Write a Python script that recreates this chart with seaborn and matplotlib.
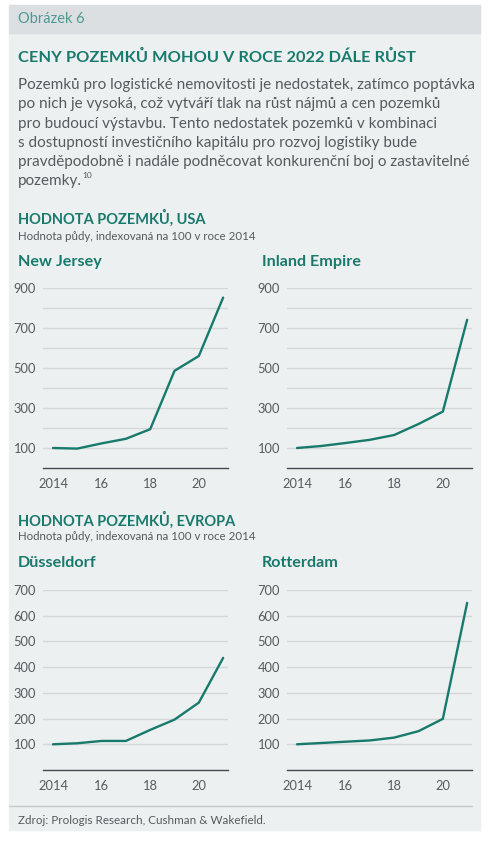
import matplotlib
matplotlib.use("Agg")
import matplotlib.pyplot as plt
import seaborn as sns
import pandas as pd
from matplotlib.patches import Rectangle

# data
years = [2014, 2015, 2016, 2017, 2018, 2019, 2020, 2021]
new_jersey = [100, 97, 123, 146, 194, 486, 560, 852]
inland_empire = [100, 110, 125, 141, 165, 220, 282, 741]
dusseldorf = [100, 104, 113, 113, 156, 196, 262, 436]
rotterdam = [100, 105, 110, 115, 126, 151, 199, 650]

x_ticks = [2014, 2016, 2018, 2020]
x_labels = ["2014", "16", "18", "20"]
usa_ticks = [100, 300, 500, 700, 900]
eu_ticks = [100, 200, 300, 400, 500, 600, 700]

TEAL = "#187a6c"
GRAY = "#555a5e"
BG = "#edf0f1"
BAND = "#dcdfe2"

W, H = 493, 843

sns.set_theme(style="white")
plt.rcParams["font.family"] = ["Lato", "DejaVu Sans"]

fig = plt.figure(figsize=(W / 100, H / 100), dpi=100)
fig.patch.set_facecolor("white")


def fx(x):
    return x / W


def fy(y):
    return 1 - y / H


# panel background and header band (behind the axes)
fig.patches.append(Rectangle((fx(9), fy(830)), fx(471), (830 - 33) / H,
                             transform=fig.transFigure, color=BG, zorder=-2))
fig.patches.append(Rectangle((fx(9), fy(33)), fx(471), 28 / H,
                             transform=fig.transFigure, color=BAND, zorder=-2))
fig.add_artist(plt.Line2D([fx(9), fx(472)], [fy(806), fy(806)],
                          transform=fig.transFigure, color="#c5c9cc", lw=1))

fig.text(fx(18), fy(19), "Obrázek 6", color="#4d9a92", fontsize=10.5, va="center")
fig.text(fx(18), fy(57), "CENY POZEMKŮ MOHOU V ROCE 2022 DÁLE RŮST",
         color=TEAL, fontsize=11.8, fontweight="bold", va="center")

body = ["Pozemků pro logistické nemovitosti je nedostatek, zatímco poptávka",
        "po nich je vysoká, což vytváří tlak na růst nájmů a cen pozemků",
        "pro budoucí výstavbu. Tento nedostatek pozemků v kombinaci",
        "s dostupností investičního kapitálu pro rozvoj logistiky bude",
        "pravděpodobně i nadále podněcovat konkurenční boj o zastavitelné",
        "pozemky."]
for i, line in enumerate(body):
    last = fig.text(fx(18), fy(85 + i * 19.3), line, color=GRAY, fontsize=11, va="center")

# footnote mark right after the last body line
fig.canvas.draw()
bb = last.get_window_extent()
fig.text(bb.x1 / W, fy(176), "10", color=GRAY, fontsize=6, va="center")

fig.text(fx(18), fy(218), "HODNOTA POZEMKŮ, USA", color=TEAL, fontsize=10.5,
         fontweight="bold", va="center")
fig.text(fx(18), fy(236), "Hodnota půdy, indexovaná na 100 v roce 2014",
         color=GRAY, fontsize=8.3, va="center")
fig.text(fx(18), fy(520), "HODNOTA POZEMKŮ, EVROPA", color=TEAL, fontsize=10.5,
         fontweight="bold", va="center")
fig.text(fx(18), fy(537), "Hodnota půdy, indexovaná na 100 v roce 2014",
         color=GRAY, fontsize=8.3, va="center")
fig.text(fx(18), fy(820), "Zdroj: Prologis Research, Cushman & Wakefield.",
         color=GRAY, fontsize=8.4, va="center")

panels = [
    ("New Jersey", new_jersey, 43, 288, 468, 900, usa_ticks, 262),
    ("Inland Empire", inland_empire, 287, 288, 468, 900, usa_ticks, 262),
    ("Düsseldorf", dusseldorf, 43, 590, 770, 700, eu_ticks, 563),
    ("Rotterdam", rotterdam, 287, 590, 770, 700, eu_ticks, 563),
]

for name, values, left, top, bottom, ymax, ticks, title_y in panels:
    ax = fig.add_axes([fx(left), fy(bottom), 185 / W, (bottom - top) / H])
    ax.set_facecolor("none")
    df = pd.DataFrame({"year": years, "value": values})
    sns.lineplot(data=df, x="year", y="value", ax=ax, color=TEAL, linewidth=1.7)
    for g in range(100, ymax + 1, 100):
        ax.axhline(g, color="#d3d7d9", lw=1, zorder=0)
    ax.set_xlim(2013.59, 2021.2)
    ax.set_ylim(0, ymax)
    ax.set_xticks(x_ticks)
    ax.set_xticklabels(x_labels)
    ax.set_yticks(ticks)
    ax.set_xlabel("")
    ax.set_ylabel("")
    ax.tick_params(axis="both", length=0, labelsize=9.3, labelcolor=GRAY)
    ax.tick_params(axis="y", pad=5)
    ax.tick_params(axis="x", pad=7)
    for s in ["top", "right", "left"]:
        ax.spines[s].set_visible(False)
    ax.spines["bottom"].set_color("#444a4e")
    ax.spines["bottom"].set_linewidth(1)
    fig.text(fx(left - 25), fy(title_y), name, color=TEAL, fontsize=11.6,
             fontweight="bold", va="center")

fig.savefig("out.png", dpi=100)
